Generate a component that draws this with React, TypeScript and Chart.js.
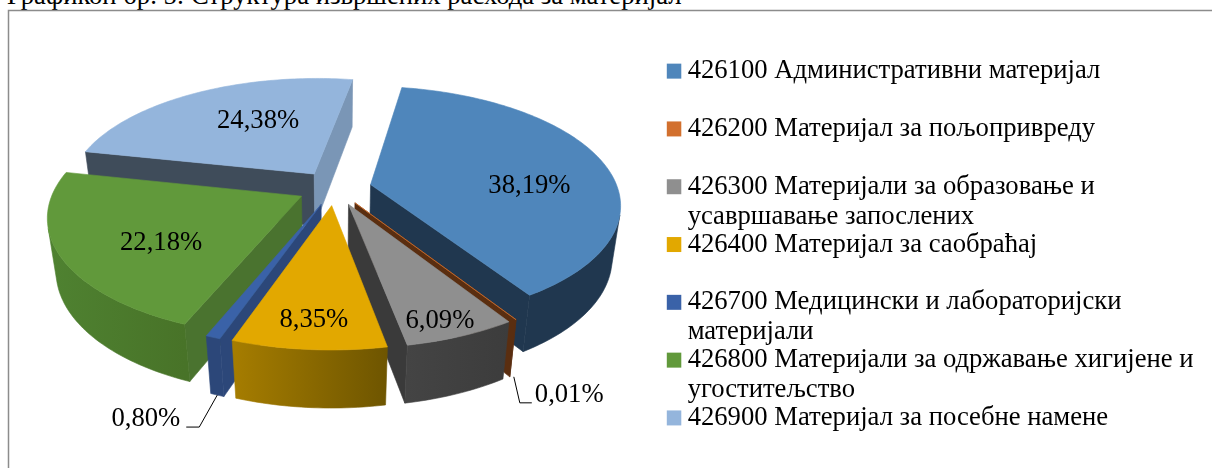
import { useEffect, useRef } from "react";
import { Chart, registerables } from "chart.js";

Chart.register(...registerables);

const categories: string[][] = [
  ["426100 Административни материјал", ""],
  ["426200 Материјал за пољопривреду", ""],
  ["426300 Материјали за образовање и", "усавршавање запослених"],
  ["426400 Материјал за саобраћај", ""],
  ["426700 Медицински и лабораторијски", "материјали"],
  ["426800 Материјали за одржавање хигијене и", "угоститељство"],
  ["426900 Материјал за посебне намене", ""],
];
const shares = [38.19, 0.01, 6.09, 8.35, 0.8, 22.18, 24.38];
const titleText = "Графикон бр. 5: Структура извршених расхода за материјал";

const topColors = ["#4F86BB", "#D2702E", "#8F8F8F", "#E2A800", "#3A62A8", "#61993B", "#94B5DC"];
const startWall = ["#20374F", "#5A2E10", "#3A3A3A", "#6E5500", "#2C4779", "#4A732F", "#3F4C5A"];
const endWall = ["#20374F", "#5A2E10", "#3A3A3A", "#6E5500", "#3A62A8", "#4A732F", "#7A96B6"];
const outerWallLeft = ["#20374F", "#5A2E10", "#444444", "#A67D00", "#2C4779", "#4F8231", "#7A96B6"];
const outerWallRight = ["#20374F", "#5A2E10", "#3C3C3C", "#6E5500", "#2C4779", "#487328", "#7A96B6"];
const labelRadius = [0.62, 0, 0.62, 0.6, 0, 0.6, 0.6];
const labelNudge = [[13, 15], [0, 0], [26, 40], [-5, 34], [0, 0], [0, 12], [18, -2]];

const view = { cx: 334.5, cy: 188, rx: 247, ry: 115, persp: 0.16, wall: 54, zPersp: 0.03 };

const pie3d = {
  id: "pie3d",
  afterLayout(chart: any) {
    // the legend swatch is a wide stroke that must not be clipped to the legend box
    chart.legend.draw = function () {
      this._draw();
    };
  },
  beforeDatasetsDraw(chart: any) {
    const ctx: CanvasRenderingContext2D = chart.ctx;
    const arcs: any[] = chart.getDatasetMeta(0).data;

    // frame
    ctx.save();
    ctx.strokeStyle = "#8C8C8C";
    ctx.lineWidth = 1.5;
    ctx.beginPath();
    ctx.moveTo(8.5, 468);
    ctx.lineTo(8.5, 10.5);
    ctx.lineTo(1212, 10.5);
    ctx.stroke();
    ctx.restore();

    const project = (ux: number, uy: number, z: number): [number, number] => {
      const s = 1 / (1 - view.persp * uy + view.zPersp * z);
      return [view.cx + ux * view.rx * s, view.cy + uy * view.ry * s + z * view.wall * s];
    };

    const slices = arcs.map((arc, i) => {
      const a0 = arc.startAngle + Math.PI / 2;
      const a1 = arc.endAngle + Math.PI / 2;
      const mid = (a0 + a1) / 2;
      const e = arc.options.offset / view.rx;
      return { arc, i, a0, a1, mid, ex: e * Math.sin(mid), ey: -e * Math.cos(mid) };
    });

    const pointOf = (sl: any, angle: number, r: number, z: number) =>
      project(sl.ex + r * Math.sin(angle), sl.ey - r * Math.cos(angle), z);

    const fillPoly = (pts: number[][], color: any) => {
      ctx.beginPath();
      pts.forEach((p, k) => (k ? ctx.lineTo(p[0], p[1]) : ctx.moveTo(p[0], p[1])));
      ctx.closePath();
      ctx.fillStyle = color;
      ctx.strokeStyle = color;
      ctx.lineWidth = 0.6;
      ctx.fill();
      ctx.stroke();
    };
    const area = (pts: number[][]) => {
      let s = 0;
      pts.forEach((p, k) => {
        const q = pts[(k + 1) % pts.length];
        s += p[0] * q[1] - q[0] * p[1];
      });
      return s;
    };

    const order = [...slices].sort((p, q) => -Math.cos(p.mid) - -Math.cos(q.mid));
    for (const sl of order) {
      const i = sl.i;
      const n = Math.max(2, Math.ceil((sl.a1 - sl.a0) / 0.02));
      const A = pointOf(sl, 0, 0, 0);
      const B = pointOf(sl, 0, 0, 1);
      const S = pointOf(sl, sl.a0, 1, 0);
      const Sb = pointOf(sl, sl.a0, 1, 1);
      const E = pointOf(sl, sl.a1, 1, 0);
      const Eb = pointOf(sl, sl.a1, 1, 1);

      const startFace = [A, S, Sb, B];
      if (area(startFace) < 0) fillPoly(startFace, startWall[i]);
      const endFace = [A, B, Eb, E];
      if (area(endFace) < 0) fillPoly(endFace, endWall[i]);

      const top: number[][] = [A];
      const wallTop: number[][] = [];
      const wallBottom: number[][] = [];
      for (let k = 0; k <= n; k++) {
        const ang = sl.a0 + (sl.a1 - sl.a0) * (k / n);
        const p = pointOf(sl, ang, 1, 0);
        top.push(p);
        if (k < n) {
          const ang2 = sl.a0 + (sl.a1 - sl.a0) * ((k + 1) / n);
          const quad = [p, pointOf(sl, ang2, 1, 0), pointOf(sl, ang2, 1, 1), pointOf(sl, ang, 1, 1)];
          if (area(quad) < 0) {
            if (!wallTop.length) {
              wallTop.push(p);
              wallBottom.push(pointOf(sl, ang, 1, 1));
            }
            wallTop.push(pointOf(sl, ang2, 1, 0));
            wallBottom.push(pointOf(sl, ang2, 1, 1));
          }
        }
      }
      if (wallTop.length) {
        const xs = wallTop.map((p) => p[0]);
        const g = ctx.createLinearGradient(Math.min(...xs), 0, Math.max(...xs), 0);
        g.addColorStop(0, outerWallLeft[i]);
        g.addColorStop(1, outerWallRight[i]);
        fillPoly([...wallTop, ...wallBottom.reverse()], g);
      }
      fillPoly(top, sl.arc.options.backgroundColor);
    }

    // value labels
    ctx.save();
    ctx.fillStyle = "#000";
    ctx.font = '26.67px "Liberation Serif"';
    ctx.textAlign = "center";
    ctx.textBaseline = "middle";
    const fmt = (v: number) => v.toFixed(2).replace(".", ",") + "%";
    for (const sl of slices) {
      const text = fmt(shares[sl.i]);
      if (labelRadius[sl.i] > 0) {
        const p = pointOf(sl, sl.mid, labelRadius[sl.i], 0);
        ctx.fillText(text, p[0] + labelNudge[sl.i][0], p[1] + labelNudge[sl.i][1]);
      }
    }
    ctx.strokeStyle = "#000";
    ctx.lineWidth = 1;
    // leader: 0,01 %
    const br = slices[1];
    const bp = pointOf(br, br.mid, 1, 1);
    ctx.beginPath();
    ctx.moveTo(bp[0] + 4, bp[1]);
    ctx.lineTo(bp[0] + 10, bp[1] + 26);
    ctx.lineTo(bp[0] + 22, bp[1] + 26);
    ctx.stroke();
    ctx.textAlign = "left";
    ctx.fillText(fmt(shares[1]), bp[0] + 25, bp[1] + 18);
    // leader: 0,80 %
    const db = slices[4];
    const dp = pointOf(db, db.mid, 1, 1);
    ctx.beginPath();
    ctx.moveTo(dp[0], dp[1]);
    ctx.lineTo(dp[0] - 18, dp[1] + 32);
    ctx.lineTo(dp[0] - 31, dp[1] + 32);
    ctx.stroke();
    ctx.textAlign = "right";
    ctx.fillText(fmt(shares[4]), dp[0] - 37, dp[1] + 24);
    ctx.restore();
    return false;
  },
};

export default function App() {
  const ref = useRef<HTMLCanvasElement>(null);
  useEffect(() => {
    document.body.style.margin = "0";
    const chart = new Chart(ref.current!, {
      type: "pie",
      data: {
        labels: categories as any,
        datasets: [
          {
            data: shares,
            backgroundColor: topColors,
            borderWidth: 0,
            offset: 37,
          },
        ],
      },
      options: {
        responsive: false,
        animation: false,
        rotation: 9.8,
        layout: { padding: { top: 60, right: 8.5, bottom: 0, left: 0 } },
        plugins: {
          tooltip: { enabled: false },
          legend: {
            position: "right",
            align: "start",
            labels: {
              boxWidth: 0.5,
              boxHeight: 1,
              padding: -2.2,
              color: "#111",
              font: { family: "Liberation Serif", size: 26.67, lineHeight: 30 / 26.67 },
              generateLabels: () =>
                categories.map((text, i) => ({
                  text,
                  fillStyle: topColors[i],
                  strokeStyle: topColors[i],
                  lineWidth: 14,
                  hidden: false,
                  index: i,
                })),
            },
          },
        },
      },
      plugins: [pie3d as any],
    });
    return () => chart.destroy();
  }, []);
  return (
    <div style={{ position: "relative", width: 1212, height: 468, overflow: "hidden", background: "#fff" }}>
      <div
        style={{
          position: "absolute",
          left: 7,
          top: -20,
          font: '26.67px "Liberation Serif"',
          whiteSpace: "nowrap",
          color: "#000",
        }}
      >
        {titleText}
      </div>
      <canvas ref={ref} width={1212} height={468} style={{ position: "absolute", left: 0, top: 0 }} />
    </div>
  );
}
